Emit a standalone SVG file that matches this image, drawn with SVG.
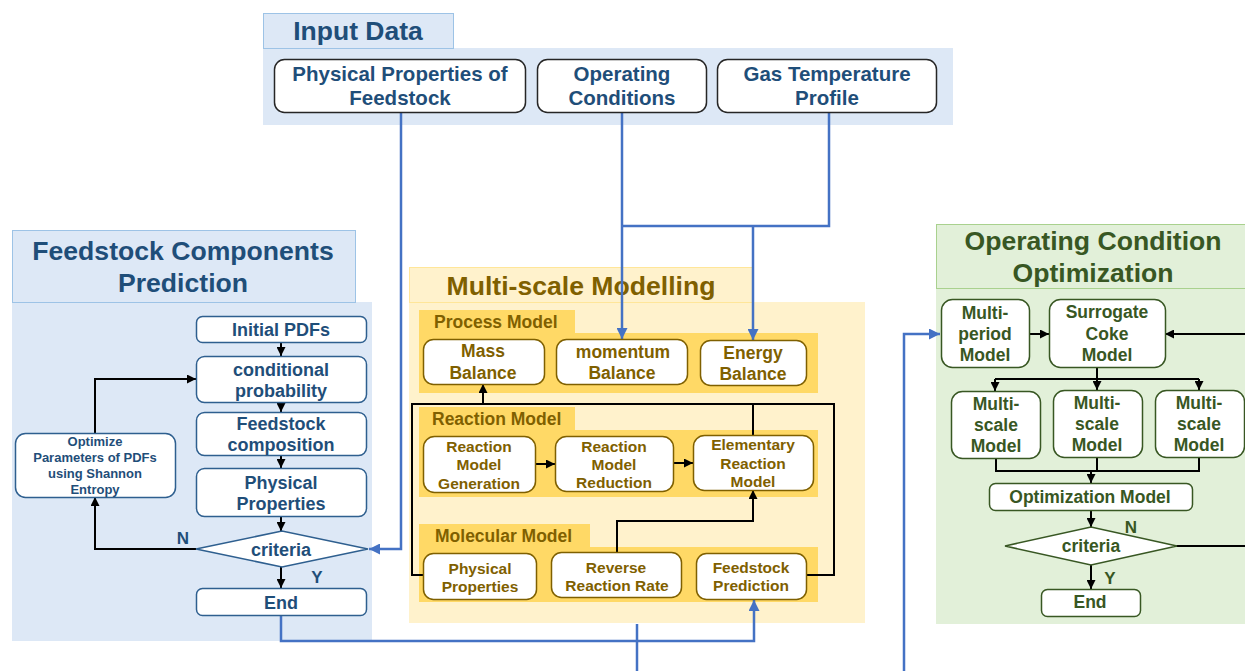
<svg xmlns="http://www.w3.org/2000/svg" width="1245" height="671" viewBox="0 0 1245 671">
<defs>
<marker id="ak" markerUnits="userSpaceOnUse" markerWidth="9" markerHeight="9" viewBox="0 0 10 10" refX="10" refY="5" orient="auto"><path d="M0,0 L10,5 L0,10 z" fill="#000"/></marker>
<marker id="ab" markerUnits="userSpaceOnUse" markerWidth="11" markerHeight="11" viewBox="0 0 10 10" refX="10" refY="5" orient="auto"><path d="M0,0 L10,5 L0,10 z" fill="#4472c4"/></marker>
</defs>
<style>
text{font-family:"Liberation Sans",Arial,sans-serif;font-weight:bold;text-anchor:middle}
.tb{fill:#1f4e79}.to{fill:#7f6000}.tg{fill:#385723}
.h{font-size:26.6px}
.nin{fill:#fff;stroke:#262626;stroke-width:1.5}
.nb{fill:#fff;stroke:#2e5f8f;stroke-width:1.5}
.no{fill:#fff;stroke:#7f6000;stroke-width:1.5}
.ng{fill:#fff;stroke:#385723;stroke-width:1.5}
.k{fill:none;stroke:#000;stroke-width:2}
.b{fill:none;stroke:#4472c4;stroke-width:2.5}
</style>
<rect width="1245" height="671" fill="#fff"/>

<!-- panels -->
<g id="input-data">
<rect x="263" y="48" width="690" height="77" fill="#dde8f6"/>
<rect x="263.5" y="13.5" width="190" height="35" fill="#dde8f6" stroke="#9dc3e6"/>
<text class="tb" x="358" y="40" font-size="26.5">Input Data</text>
</g>
<g id="feedstock-panel">
<rect x="12" y="302" width="360" height="339" fill="#dde8f6"/>
<rect x="12.5" y="230.5" width="343" height="72" fill="#dde8f6" stroke="#9dc3e6"/>
<text class="tb h" x="183" y="260">Feedstock Components</text>
<text class="tb h" x="183" y="292">Prediction</text>
</g>
<g id="multiscale-panel">
<rect x="409" y="302" width="456" height="321" fill="#fff2cc"/>
<rect x="409.5" y="267.5" width="343" height="35" fill="#fff2cc" stroke="#ffe699"/>
<text class="to h" x="581" y="295">Multi-scale Modelling</text>
<rect x="419" y="310" width="156" height="24" fill="#ffd966"/>
<rect x="419" y="333" width="399" height="60" fill="#ffd966"/>
<text class="to" x="434" y="327.5" font-size="17.5" style="text-anchor:start">Process Model</text>
<rect x="419" y="407" width="156" height="24" fill="#ffd966"/>
<rect x="419" y="430" width="399" height="67" fill="#ffd966"/>
<text class="to" x="432" y="424.5" font-size="17.5" style="text-anchor:start">Reaction Model</text>
<rect x="419" y="524" width="171" height="24" fill="#ffd966"/>
<rect x="419" y="547" width="399" height="55" fill="#ffd966"/>
<text class="to" x="435" y="542" font-size="17.5" style="text-anchor:start">Molecular Model</text>
</g>
<g id="optimization-panel">
<rect x="936" y="288" width="309" height="336" fill="#e2f0d9"/>
<rect x="936.5" y="224.5" width="310" height="64" fill="#e2f0d9" stroke="#a9d18e"/>
<text class="tg h" x="1093" y="250">Operating Condition</text>
<text class="tg h" x="1093" y="282">Optimization</text>
</g>

<!-- connectors -->
<g id="connectors">
<path class="b" d="M401,112 V549 H369" marker-end="url(#ab)"/>
<path class="b" d="M622,112 V339" marker-end="url(#ab)"/>
<path class="b" d="M829,112 V226 H622"/>
<path class="b" d="M753,226 V340" marker-end="url(#ab)"/>
<path class="b" d="M281,615 V641 H754 V600" marker-end="url(#ab)"/>
<path class="b" d="M637,624 V671"/>
<path class="b" d="M904,671 V334 H940" marker-end="url(#ab)"/>

<path class="k" d="M281,342 V356" marker-end="url(#ak)"/>
<path class="k" d="M281,402 V412" marker-end="url(#ak)"/>
<path class="k" d="M281,455 V468" marker-end="url(#ak)"/>
<path class="k" d="M281,516 V531" marker-end="url(#ak)"/>
<path class="k" d="M281,566 V588" marker-end="url(#ak)"/>
<path class="k" d="M196,549 H95 V497" marker-end="url(#ak)"/>
<path class="k" d="M95,433 V379 H196" marker-end="url(#ak)"/>

<path class="k" d="M423,575 H412 V404 H834 V575 H806"/>
<path class="k" d="M483,404 V384" marker-end="url(#ak)"/>
<path class="k" d="M753,436 V404"/>
<path class="k" d="M535,464 H555" marker-end="url(#ak)"/>
<path class="k" d="M673,463 H693" marker-end="url(#ak)"/>
<path class="k" d="M617,552 V521 H753 V490" marker-end="url(#ak)"/>

<path class="k" d="M1029,334 H1049" marker-end="url(#ak)"/>
<path class="k" d="M1245,334 H1165" marker-end="url(#ak)"/>
<path class="k" d="M1097,367 V379 M995,379 H1199"/>
<path class="k" d="M995,379 V391" marker-end="url(#ak)"/>
<path class="k" d="M1097,379 V390" marker-end="url(#ak)"/>
<path class="k" d="M1199,379 V390" marker-end="url(#ak)"/>
<path class="k" d="M996,458 V471 M1097,457 V471 M1199,457 V471 M995,471 H1200"/>
<path class="k" d="M1091,471 V483" marker-end="url(#ak)"/>
<path class="k" d="M1091,510 V527" marker-end="url(#ak)"/>
<path class="k" d="M1176,546 H1245"/>
<path class="k" d="M1091,565 V589" marker-end="url(#ak)"/>
</g>

<!-- input nodes -->
<g id="n-physprop-feed"><rect class="nin" x="274.5" y="59.5" width="251" height="53" rx="10"/>
<text class="tb" x="400" y="81" font-size="20.5">Physical Properties of</text><text class="tb" x="400" y="105" font-size="20.5">Feedstock</text></g>
<g id="n-opcond"><rect class="nin" x="537.5" y="59.5" width="169" height="53" rx="10"/>
<text class="tb" x="622" y="81" font-size="20.5">Operating</text><text class="tb" x="622" y="105" font-size="20.5">Conditions</text></g>
<g id="n-gastemp"><rect class="nin" x="717.5" y="59.5" width="219" height="53" rx="10"/>
<text class="tb" x="827" y="81" font-size="20.5">Gas Temperature</text><text class="tb" x="827" y="105" font-size="20.5">Profile</text></g>

<!-- feedstock nodes -->
<g id="n-initpdf"><rect class="nb" x="196.5" y="316.5" width="170" height="26" rx="6"/>
<text class="tb" x="281" y="335.5" font-size="18">Initial PDFs</text></g>
<g id="n-condprob"><rect class="nb" x="196.5" y="356.5" width="170" height="46" rx="8"/>
<text class="tb" x="281" y="375.5" font-size="18">conditional</text><text class="tb" x="281" y="396.5" font-size="18">probability</text></g>
<g id="n-feedcomp"><rect class="nb" x="196.5" y="412.5" width="170" height="43" rx="8"/>
<text class="tb" x="281" y="429.5" font-size="18">Feedstock</text><text class="tb" x="281" y="450.5" font-size="18">composition</text></g>
<g id="n-physprop1"><rect class="nb" x="196.5" y="468.5" width="170" height="48" rx="8"/>
<text class="tb" x="281" y="488.5" font-size="18">Physical</text><text class="tb" x="281" y="509.5" font-size="18">Properties</text></g>
<g id="n-criteria1"><path class="nb" d="M196,549 L282,531 L368,549 L282,567 Z"/>
<text class="tb" x="281" y="555.5" font-size="18">criteria</text>
<text class="tb" x="183" y="544" font-size="17">N</text><text class="tb" x="317" y="583" font-size="17">Y</text></g>
<g id="n-end1"><rect class="nb" x="196.5" y="588.5" width="170" height="27" rx="6"/>
<text class="tb" x="281" y="608.5" font-size="18">End</text></g>
<g id="n-optimize"><rect class="nb" x="15.5" y="433.5" width="160" height="64" rx="10"/>
<text class="tb" x="95" y="445.5" font-size="13">Optimize</text><text class="tb" x="95" y="461.5" font-size="13">Parameters of PDFs</text>
<text class="tb" x="95" y="477.5" font-size="13">using Shannon</text><text class="tb" x="95" y="493.5" font-size="13">Entropy</text></g>

<!-- multi-scale nodes -->
<g id="n-mass"><rect class="no" x="423.5" y="339.5" width="121" height="45" rx="10"/>
<text class="to" x="483" y="357" font-size="17.5">Mass</text><text class="to" x="483" y="379" font-size="17.5">Balance</text></g>
<g id="n-momentum"><rect class="no" x="556.5" y="339.5" width="131" height="45" rx="10"/>
<text class="to" x="623" y="358" font-size="17.5">momentum</text><text class="to" x="622" y="379" font-size="17.5">Balance</text></g>
<g id="n-energy"><rect class="no" x="700.5" y="340.5" width="106" height="45" rx="10"/>
<text class="to" x="753" y="359" font-size="17.5">Energy</text><text class="to" x="753" y="380" font-size="17.5">Balance</text></g>
<g id="n-rmgen"><rect class="no" x="423.5" y="436.5" width="112" height="56" rx="11"/>
<text class="to" x="479" y="451.5" font-size="15.5">Reaction</text><text class="to" x="479" y="470" font-size="15.5">Model</text><text class="to" x="479" y="488.5" font-size="15.5">Generation</text></g>
<g id="n-rmred"><rect class="no" x="555.5" y="436.5" width="118" height="55" rx="11"/>
<text class="to" x="614" y="451.5" font-size="15.5">Reaction</text><text class="to" x="614" y="470" font-size="15.5">Model</text><text class="to" x="614" y="488" font-size="15.5">Reduction</text></g>
<g id="n-elem"><rect class="no" x="693.5" y="435.5" width="120" height="55" rx="11"/>
<text class="to" x="753" y="449.5" font-size="15.5">Elementary</text><text class="to" x="753" y="468.5" font-size="15.5">Reaction</text><text class="to" x="753" y="486.5" font-size="15.5">Model</text></g>
<g id="n-physprop2"><rect class="no" x="423.5" y="553.5" width="113" height="46" rx="10"/>
<text class="to" x="480" y="573.5" font-size="15.5">Physical</text><text class="to" x="480" y="591.5" font-size="15.5">Properties</text></g>
<g id="n-reverse"><rect class="no" x="551.5" y="552.5" width="130" height="45" rx="10"/>
<text class="to" x="616" y="572.5" font-size="15.5">Reverse</text><text class="to" x="617" y="590.5" font-size="15.5">Reaction Rate</text></g>
<g id="n-feedpred"><rect class="no" x="696.5" y="553.5" width="110" height="46" rx="10"/>
<text class="to" x="751" y="572.5" font-size="15.5">Feedstock</text><text class="to" x="751" y="590.5" font-size="15.5">Prediction</text></g>

<!-- optimization nodes -->
<g id="n-multiperiod"><rect class="ng" x="941.5" y="299.5" width="88" height="68" rx="11"/>
<text class="tg" x="985" y="319" font-size="17.5">Multi-</text><text class="tg" x="985" y="340" font-size="17.5">period</text><text class="tg" x="985" y="361" font-size="17.5">Model</text></g>
<g id="n-surrogate"><rect class="ng" x="1049.5" y="299.5" width="116" height="68" rx="11"/>
<text class="tg" x="1107" y="318" font-size="17.5">Surrogate</text><text class="tg" x="1107" y="340" font-size="17.5">Coke</text><text class="tg" x="1107" y="361" font-size="17.5">Model</text></g>
<g id="n-ms1"><rect class="ng" x="951.5" y="391.5" width="89" height="67" rx="11"/>
<text class="tg" x="996" y="410" font-size="17.5">Multi-</text><text class="tg" x="996" y="431" font-size="17.5">scale</text><text class="tg" x="996" y="452" font-size="17.5">Model</text></g>
<g id="n-ms2"><rect class="ng" x="1053.5" y="390.5" width="89" height="67" rx="11"/>
<text class="tg" x="1097" y="409" font-size="17.5">Multi-</text><text class="tg" x="1097" y="430" font-size="17.5">scale</text><text class="tg" x="1097" y="451" font-size="17.5">Model</text></g>
<g id="n-ms3"><rect class="ng" x="1155.5" y="390.5" width="89" height="67" rx="11"/>
<text class="tg" x="1199" y="409" font-size="17.5">Multi-</text><text class="tg" x="1199" y="430" font-size="17.5">scale</text><text class="tg" x="1199" y="451" font-size="17.5">Model</text></g>
<g id="n-optmodel"><rect class="ng" x="989.5" y="483.5" width="203" height="27" rx="6"/>
<text class="tg" x="1090" y="503" font-size="17.5">Optimization Model</text></g>
<g id="n-criteria2"><path class="ng" d="M1005,546 L1091,527 L1177,546 L1091,565 Z"/>
<text class="tg" x="1091" y="552" font-size="17.5">criteria</text>
<text class="tg" x="1131" y="533" font-size="17">N</text><text class="tg" x="1110" y="584" font-size="17">Y</text></g>
<g id="n-end2"><rect class="ng" x="1041.5" y="589.5" width="99" height="27" rx="6"/>
<text class="tg" x="1090" y="608" font-size="17.5">End</text></g>
</svg>
